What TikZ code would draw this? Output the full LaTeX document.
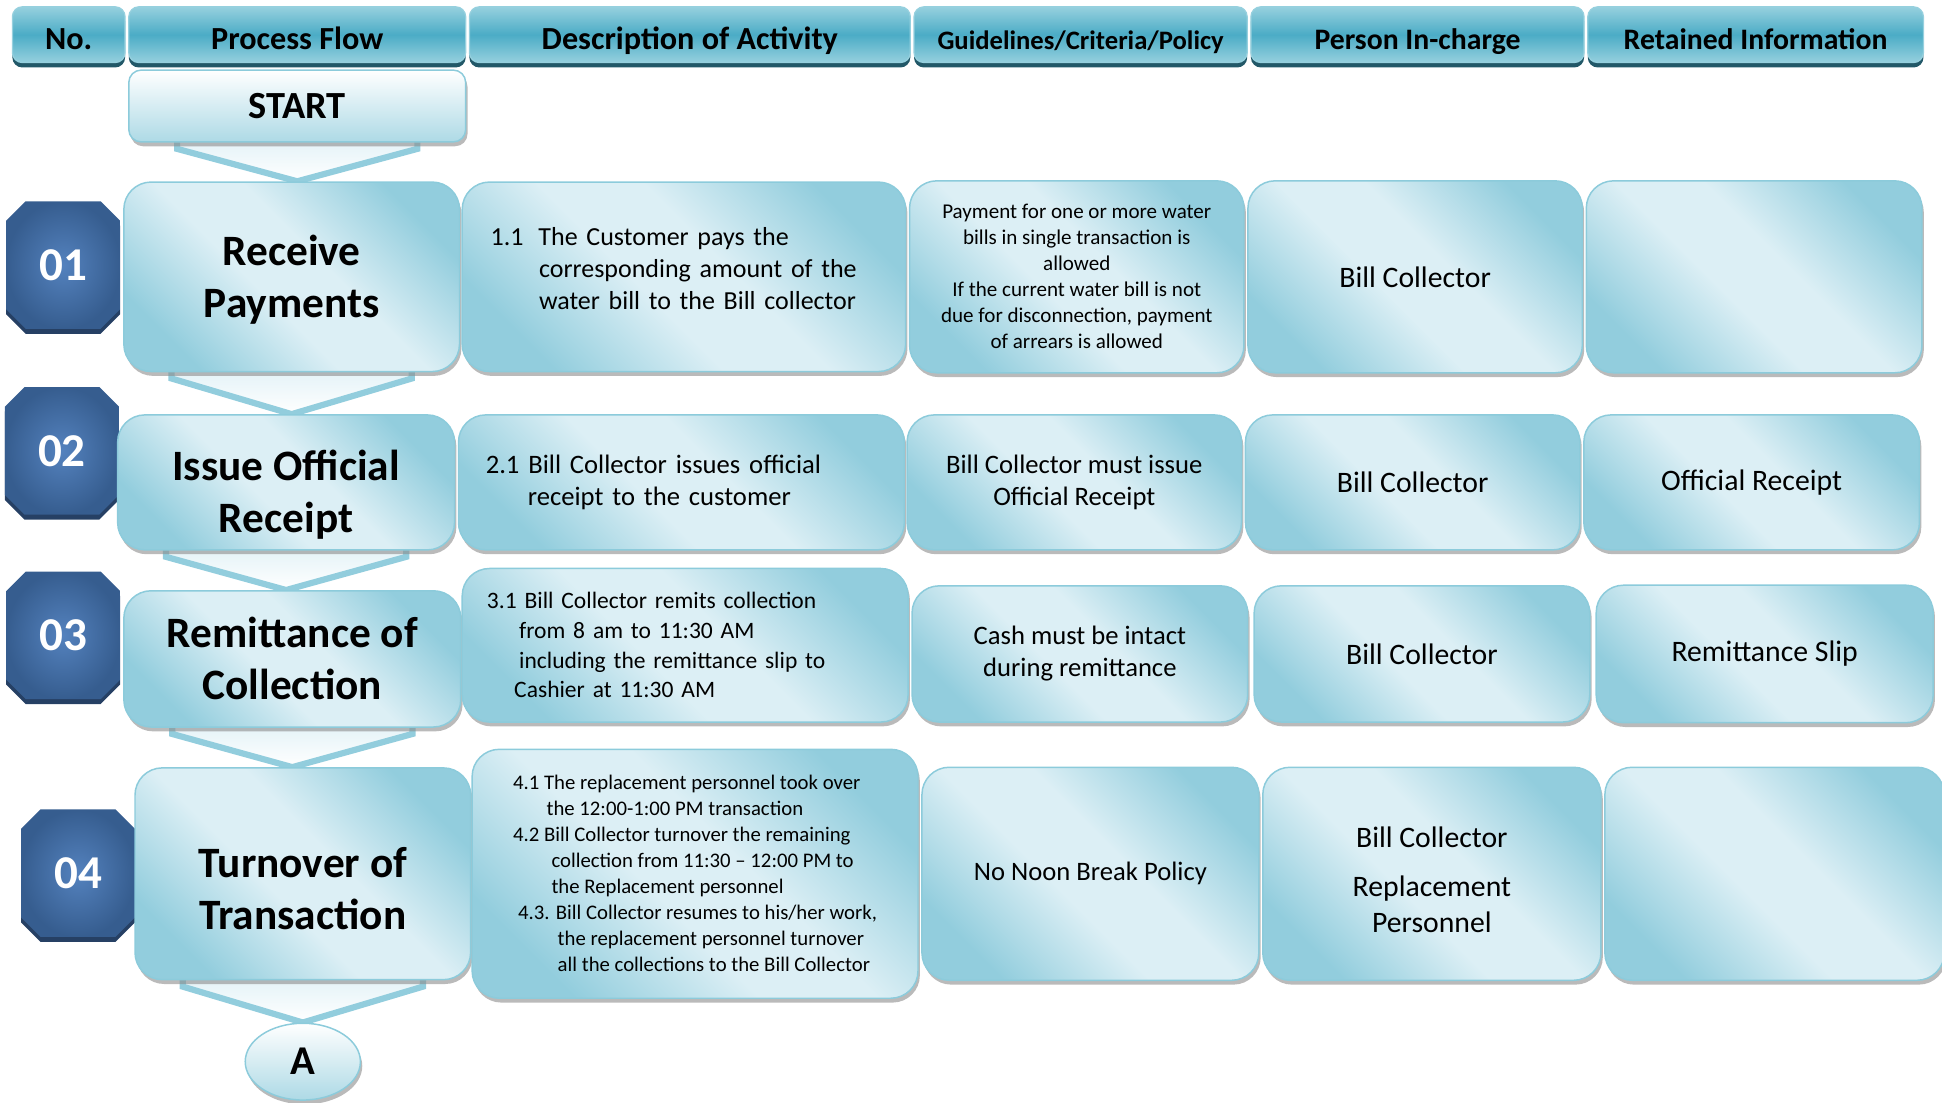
\documentclass[tikz,border=0pt]{standalone}
\usepackage{fontspec}
\setmainfont{Carlito}
\usetikzlibrary{positioning,calc,shapes.geometric,shapes.misc,shadows,backgrounds}
\definecolor{aqdark}{RGB}{146,205,221}
\definecolor{aqlight}{RGB}{220,239,245}
\definecolor{aqedge}{RGB}{140,203,219}
\definecolor{hdmid}{RGB}{75,172,198}
\definecolor{hdtop}{RGB}{150,208,222}
\definecolor{hdshade}{RGB}{34,88,104}
\definecolor{octin}{RGB}{84,130,190}
\definecolor{octout}{RGB}{54,93,143}
\definecolor{octshade}{RGB}{38,64,100}
\pgfdeclarehorizontalshading{aquabox}{100bp}{color(0bp)=(aqdark); color(25bp)=(aqdark); color(44bp)=(aqlight); color(56bp)=(aqlight); color(75bp)=(aqdark); color(100bp)=(aqdark)}
\newcommand{\fsz}[2]{\fontsize{#1}{#2}\selectfont}
\newcommand{\flowchev}[2]{%
  \filldraw[chev] ($(#1.south)+(-97,-12)$) -- ($(#1.south)+(97,-12)$) -- ($(#1.south)+(97,5)$)
    -- (#1.south |- #2.north) -- ($(#1.south)+(-97,5)$) -- cycle;}

\begin{document}
\begin{tikzpicture}[x=1pt,y=-1pt,
    cell/.style={rounded corners=22pt,draw=aqedge,line width=1.2pt,shading=aquabox,shading angle=45,
      align=center,inner sep=4pt,font=\fsz{21.5}{26},
      drop shadow={shadow xshift=1.5pt,shadow yshift=-3.5pt,fill=black!45,opacity=.6}},
    proc/.style={cell,font=\bfseries\fsz{35}{42}},
    who/.style={cell,font=\fsz{24}{29}},
    hdr/.style={rounded corners=8pt,draw=hdtop,line width=1pt,top color=hdtop,bottom color=hdtop,middle color=hdmid,
      minimum height=45pt,inner sep=0pt,text height=24pt,text depth=0pt,font=\bfseries\fsz{24}{28},
      drop shadow={shadow xshift=0pt,shadow yshift=-4pt,fill=hdshade,opacity=1}},
    octo/.style={chamfered rectangle,chamfered rectangle xsep=27pt,minimum width=92pt,minimum height=103pt,
      inner sep=0pt,inner color=octin,outer color=octout,text=white,font=\bfseries\fsz{38}{40},
      drop shadow={shadow xshift=0pt,shadow yshift=-4pt,fill=octshade,opacity=1}},
    term/.style={draw=aqedge,line width=1.2pt,top color=white,bottom color=aqdark!75,font=\bfseries\fsz{31}{34},
      drop shadow={shadow xshift=1.5pt,shadow yshift=-3.5pt,fill=black!45,opacity=.6}},
    chev/.style={draw=aqdark,line width=5pt,line join=miter,top color=aqlight,bottom color=white}]
  \useasboundingbox (0,0) rectangle (1568,890);
  \node[hdr,minimum width=91pt,font=\bfseries\fsz{26}{28}] (hno) at (55.5,28) {No.};
  \node[hdr,minimum width=272pt,right=2pt of hno,font=\bfseries\fsz{26}{28}] (hflow) {Process Flow};
  \node[hdr,minimum width=356pt,right=2pt of hflow,font=\bfseries\fsz{26}{28}] (hdesc) {Description of Activity};
  \node[hdr,minimum width=269pt,right=2pt of hdesc,font=\bfseries\fsz{21.5}{26}] (hguide) {Guidelines/Criteria/Policy};
  \node[hdr,minimum width=269pt,right=2pt of hguide] (hwho) {Person In-charge};
  \node[hdr,minimum width=271pt,right=2pt of hwho] (hret) {Retained Information};
  \node[term,rounded corners=10pt,minimum width=272pt,minimum height=58pt,below=5pt of hflow] (start) {START};

  \node[octo] (n01) at (51,214) {01};
  \node[proc,minimum width=271pt,minimum height=153pt] (p1) at (235.5,223.5) {\rule{0pt}{28.5pt}Receive\\Payments};
  \node[cell,minimum width=358pt,minimum height=153pt,right=1pt of p1,align=left,text width=312pt,font=\fsz{21}{26}] (d1)
    {1.1\hspace{12pt}The Customer pays the\\\hspace*{39pt}corresponding amount of the\\\hspace*{39pt}water bill to the Bill collector\rule[-13pt]{0pt}{0pt}};
  \node[cell,minimum width=270pt,minimum height=155pt,right=2pt of d1,font=\fsz{17}{21}] (g1)
    {Payment for one or more water\\bills in single transaction is\\allowed\\If the current water bill is not\\due for disconnection, payment\\of arrears is allowed};
  \node[who,minimum width=270pt,minimum height=155pt,right=2pt of g1] (w1) {Bill Collector};
  \node[who,minimum width=271pt,minimum height=155pt,right=2pt of w1] (r1) {};

  \node[octo] (n02) at (50,364) {02};
  \node[proc,minimum width=272pt,minimum height=109pt] (p2) at (231,389.5) {\rule{0pt}{44pt}Issue Official\\Receipt};
  \node[cell,minimum width=360pt,minimum height=109pt,right=2pt of p2,align=left,text width=316pt] (d2)
    {2.1 Bill Collector issues official\\\hspace*{34pt}receipt to the customer};
  \node[cell,minimum width=270pt,minimum height=109pt,right=1pt of d2] (g2) {Bill Collector must issue\\Official Receipt};
  \node[who,minimum width=270pt,minimum height=109pt,right=2pt of g2] (w2) {Bill Collector};
  \node[who,minimum width=271pt,minimum height=109pt,right=2pt of w2] (r2) {Official Receipt};

  \node[octo] (n03) at (51,513) {03};
  \node[proc,minimum width=272pt,minimum height=110pt] (p3) at (236,532) {Remittance of\\Collection};
  \node[cell,minimum width=360pt,minimum height=124pt,right=0pt of p3,yshift=11pt,align=left,text width=320pt,font=\fsz{19}{24}] (d3)
    {3.1 Bill Collector remits collection\\\hspace*{26pt}from 8 am to 11:30 AM\\\hspace*{26pt}including the remittance slip to\\\hspace*{22pt}Cashier at 11:30 AM};
  \node[cell,minimum width=271pt,minimum height=110pt,right=2pt of d3,yshift=-7pt] (g3) {Cash must be intact\\during remittance};
  \node[who,minimum width=271pt,minimum height=110pt,right=4pt of g3] (w3) {Bill Collector};
  \node[who,minimum width=272pt,minimum height=111pt,right=4pt of w3] (r3) {Remittance Slip};

  \node[octo] (n04) at (63,705) {04};
  \node[proc,minimum width=271pt,minimum height=171pt] (p4) at (244.5,705.5) {\rule{0pt}{48pt}Turnover of\\Transaction};
  \node[cell,minimum width=360pt,minimum height=201pt,right=0pt of p4,align=left,font=\fsz{16.75}{21}] (d4)
    {4.1 The replacement personnel took over\\\hspace*{27pt}the 12:00-1:00 PM transaction\\4.2 Bill Collector turnover the remaining\\\hspace*{31pt}collection from 11:30 – 12:00 PM to\\\hspace*{31pt}the Replacement personnel\\\hspace*{4pt}4.3. Bill Collector resumes to his/her work,\\\hspace*{36pt}the replacement personnel turnover\\\hspace*{36pt}all the collections to the Bill Collector};
  \node[cell,minimum width=272pt,minimum height=172pt,right=2pt of d4] (g4) {No Noon Break Policy};
  \node[who,minimum width=273pt,minimum height=172pt,right=2pt of g4] (w4) {\rule{0pt}{26pt}Bill Collector\\[11pt]Replacement\\Personnel};
  \node[who,minimum width=274pt,minimum height=172pt,right=2pt of w4] (r4) {};
  \node[term,ellipse,minimum width=93pt,minimum height=62pt,below=34pt of p4,font=\bfseries\fsz{33}{36}] (endA) {A};

  \begin{scope}[on background layer]
    \flowchev{start}{p1}
    \flowchev{p1}{p2}
    \flowchev{p2}{p3}
    \flowchev{p3}{p4}
    \flowchev{p4}{endA}
  \end{scope}
\end{tikzpicture}
\end{document}
